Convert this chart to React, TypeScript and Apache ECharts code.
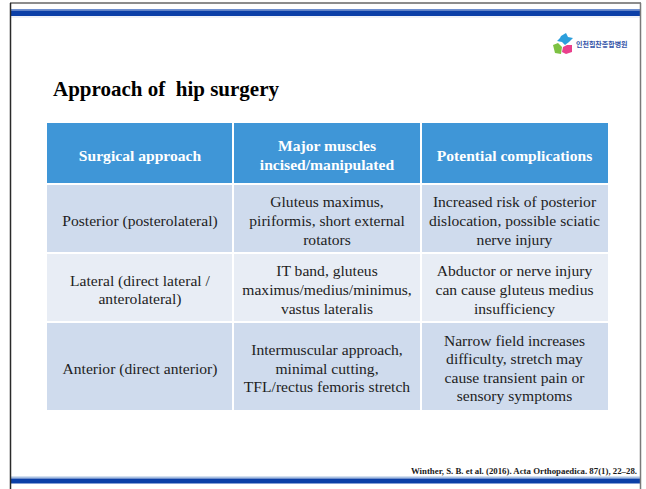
import React, { useEffect, useRef } from "react";
import * as echarts from "echarts";

const title = "Approach of  hip surgery";
const headers = [["Surgical approach"], ["Major muscles", "incised/manipulated"], ["Potential complications"]];
const approaches = [
  ["Posterior (posterolateral)"],
  ["Lateral (direct lateral /", "anterolateral)"],
  ["Anterior (direct anterior)"],
];
const muscles = [
  ["Gluteus maximus,", "piriformis, short external", "rotators"],
  ["IT band, gluteus", "maximus/medius/minimus,", "vastus lateralis"],
  ["Intermuscular approach,", "minimal cutting,", "TFL/rectus femoris stretch"],
];
const complications = [
  ["Increased risk of posterior", "dislocation, possible sciatic", "nerve injury"],
  ["Abductor or nerve injury", "can cause gluteus medius", "insufficiency"],
  ["Narrow field increases", "difficulty, stretch may", "cause transient pain or", "sensory symptoms"],
];
const citation = "Winther, S. B. et al. (2016). Acta Orthopaedica. 87(1), 22–28.";
const logoText = "인천힘찬종합병원";

const colX = [47, 233, 421, 608];
const rowY = [123, 184, 253, 322, 410];
const rowFill = ["#cfdbed", "#e8edf5", "#cfdbed"];
const SERIF = '"Liberation Serif", "Times New Roman", serif';

export default function App() {
  const ref = useRef<HTMLDivElement>(null);
  useEffect(() => {
    document.body.style.margin = "0";
    const chart = echarts.init(ref.current!, null, { renderer: "svg" });
    const els: any[] = [];
    // frame
    els.push({ type: "rect", shape: { x: 0, y: 0, width: 646, height: 489 }, style: { fill: "#ffffff" } });
    els.push({ type: "rect", shape: { x: 11, y: 9, width: 629, height: 1.5 }, style: { fill: "#6f8fcf" } });
    els.push({ type: "rect", shape: { x: 11, y: 10.5, width: 629, height: 5.5 }, style: { fill: "#0b3fa7" } });
    els.push({ type: "rect", shape: { x: 11, y: 16, width: 629, height: 2 }, style: { fill: "#eef1f8" } });
    els.push({ type: "rect", shape: { x: 11, y: 476.5, width: 629, height: 2 }, style: { fill: "#a9c1e2" } });
    els.push({ type: "rect", shape: { x: 11, y: 478.5, width: 629, height: 5 }, style: { fill: "#0b3fa7" } });
    els.push({ type: "line", shape: { x1: 10, y1: 3, x2: 641, y2: 3 }, style: { stroke: "#8c8c8c", lineWidth: 2 } });
    els.push({ type: "line", shape: { x1: 10.5, y1: 3, x2: 10.5, y2: 489 }, style: { stroke: "#2a2a2a", lineWidth: 1.5 } });
    els.push({ type: "line", shape: { x1: 640.5, y1: 3, x2: 640.5, y2: 489 }, style: { stroke: "#7a7a7a", lineWidth: 1.5 } });

    // logo
    els.push({ type: "polygon", shape: { points: [[561, 36], [566, 33], [568, 37], [573, 38], [569, 42], [565, 45], [562, 42], [557, 41], [560, 38]] }, style: { fill: "#2c9fdc" } });
    els.push({ type: "polygon", shape: { points: [[553, 45], [558, 43], [562, 47], [561, 54], [555, 53]] }, style: { fill: "#7dc143" } });
    els.push({ type: "polygon", shape: { points: [[563, 47], [567, 45], [572, 45], [572, 52], [566, 54], [562, 52]] }, style: { fill: "#ea3f8c" } });
    els.push({ type: "text", style: { text: logoText, x: 576, y: 44, font: 'bold 7px "Noto Sans CJK KR", sans-serif', fill: "#3554a8", verticalAlign: "middle" } });

    // title
    els.push({ type: "text", style: { text: title, x: 53, y: 89, font: `bold 21px ${SERIF}`, fill: "#000000", verticalAlign: "middle" } });

    // table backgrounds
    els.push({ type: "rect", shape: { x: colX[0], y: rowY[0], width: colX[3] - colX[0], height: rowY[1] - rowY[0] }, style: { fill: "#3f96d7" } });
    for (let r = 0; r < 3; r++) {
      els.push({ type: "rect", shape: { x: colX[0], y: rowY[r + 1], width: colX[3] - colX[0], height: rowY[r + 2] - rowY[r + 1] }, style: { fill: rowFill[r] } });
    }
    for (let c = 1; c < 3; c++) {
      els.push({ type: "rect", shape: { x: colX[c] - 1, y: rowY[0], width: 2, height: rowY[4] - rowY[0] }, style: { fill: "#ffffff" } });
    }
    for (let r = 1; r < 4; r++) {
      els.push({ type: "rect", shape: { x: colX[0], y: rowY[r] - 1, width: colX[3] - colX[0], height: 2 }, style: { fill: "#ffffff" } });
    }

    const LH = 18.6;
    const addCell = (lines: string[], c: number, r: number, font: string, fill: string, off: number) => {
      const cx = (colX[c] + colX[c + 1]) / 2;
      const cy = (rowY[r] + rowY[r + 1]) / 2 + off;
      const n = lines.length;
      lines.forEach((t, i) => {
        els.push({ type: "text", style: { text: t, x: cx, y: cy + (i - (n - 1) / 2) * LH, font, fill, align: "center", verticalAlign: "middle" } });
      });
    };
    headers.forEach((h, c) => addCell(h, c, 0, `bold 15.6px ${SERIF}`, "#ffffff", 1.5));
    for (let r = 0; r < 3; r++) {
      addCell(approaches[r], 0, r + 1, `15.6px ${SERIF}`, "#1e1e1e", 2);
      addCell(muscles[r], 1, r + 1, `15.6px ${SERIF}`, "#1e1e1e", 2);
      addCell(complications[r], 2, r + 1, `15.6px ${SERIF}`, "#1e1e1e", 2);
    }

    els.push({ type: "text", style: { text: citation, x: 637, y: 471, font: `bold 8.8px ${SERIF}`, fill: "#1a1a1a", align: "right", verticalAlign: "middle" } });

    chart.setOption({ animation: false, graphic: { elements: els } });
    return () => chart.dispose();
  }, []);
  return <div ref={ref} style={{ width: 646, height: 489 }} />;
}
